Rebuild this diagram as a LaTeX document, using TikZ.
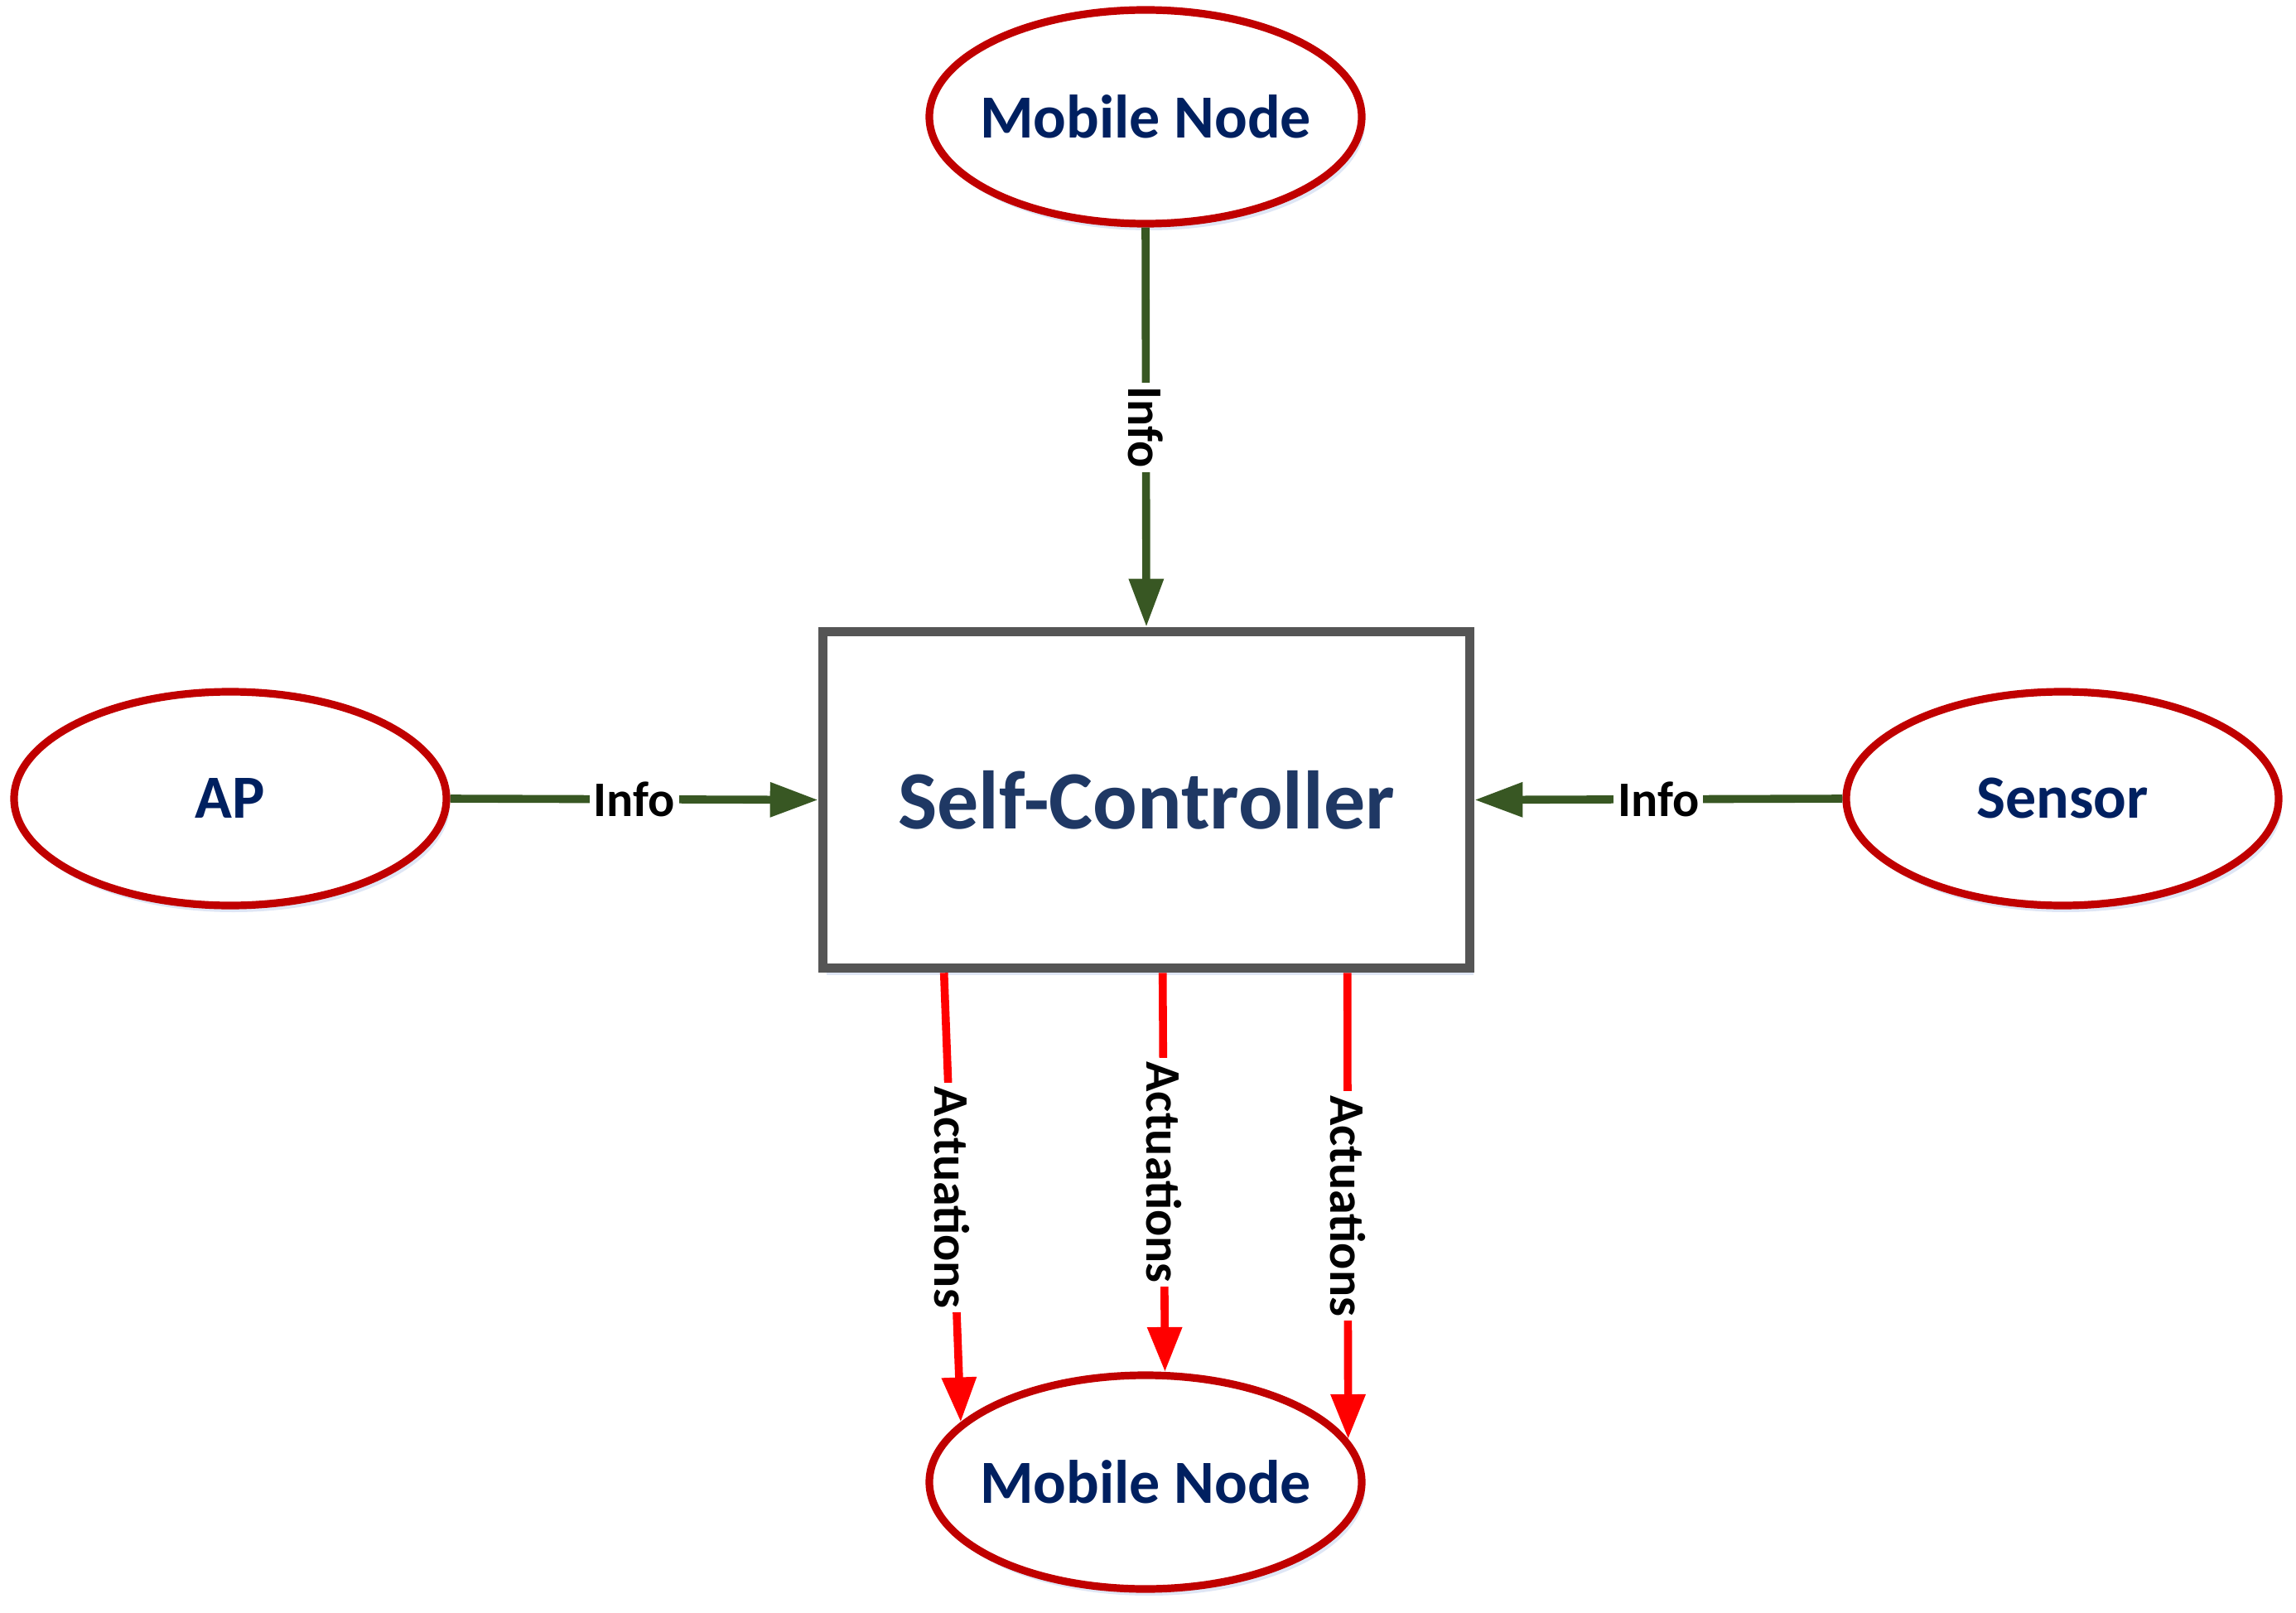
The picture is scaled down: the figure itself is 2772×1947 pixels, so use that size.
\documentclass[tikz,border=0pt]{standalone}
\usepackage{fontspec}
\setmainfont{Carlito}
\usetikzlibrary{arrows.meta,shadows,calc,shapes.geometric}
\definecolor{ellred}{HTML}{C00000}
\definecolor{navy}{HTML}{002060}
\definecolor{scnavy}{HTML}{1F3864}
\definecolor{boxgray}{HTML}{555555}
\definecolor{infogreen}{HTML}{385723}
\definecolor{actred}{HTML}{FF0000}
\definecolor{shadowblue}{HTML}{C9D6EE}
\begin{document}
\begin{tikzpicture}[x=0.25pt,y=-0.25pt,
  etext/.style={text=navy, font=\fontsize{18.5}{22}\selectfont\bfseries},
  ellip/.style={ellipse, draw=ellred, line width=2.3pt, fill=white,
    minimum width=130.5pt, minimum height=64.5pt, inner sep=0pt,
    drop shadow={shadow xshift=1pt, shadow yshift=-2pt, fill=shadowblue, opacity=0.6}},
  scbox/.style={rectangle, draw=boxgray, line width=2.9pt, fill=white,
    minimum width=195.25pt, minimum height=101.5pt, inner sep=0pt,
    text=scnavy, font=\fontsize{25}{28}\selectfont\bfseries,
    drop shadow={shadow xshift=1pt, shadow yshift=-2pt, fill=shadowblue, opacity=0.6}},
  infoarrow/.style={draw=infogreen, line width=2.4pt, -{Triangle[length=14.5pt,width=10pt]}},
  actarrow/.style={draw=actred, line width=2.4pt, -{Triangle[length=13.5pt,width=10pt]}},
  lab/.style={fill=white, inner sep=1.2pt, text=black, font=\fontsize{15}{17}\selectfont\bfseries}
]
\useasboundingbox (0,0) rectangle (2772,1947);
\node[ellip, label={[etext]center:Mobile Node}] (mt) at (1383,141) {};
\node[ellip, label={[etext]center:AP}] (ap) at (278,964) {};
\node[ellip, label={[etext]center:Sensor}] (se) at (2490,964) {};
\node[ellip, label={[etext]center:Mobile Node}] (mb) at (1383,1789) {};
\node[scbox] (sc) at (1384,965.5) {Self-Controller};

\draw[infoarrow] (mt.south) -- (sc.north) node[midway, lab, rotate=-90] {Info};
\draw[infoarrow] (ap.east) -- (sc.west) node[midway, lab] {Info};
\draw[infoarrow] (se.west) -- (sc.east) node[midway, lab] {Info};

\coordinate (a1) at ($(sc.south west)+(152,0)$);
\coordinate (a2) at ($(sc.south west)+(416,0)$);
\coordinate (a3) at ($(sc.south west)+(639,0)$);
\draw[actarrow] (a1) -- (mb.162) node[midway, lab, rotate=-90] {Actuations};
\draw[actarrow] (a2) -- (mb.80) node[midway, lab, rotate=-90] {Actuations};
\draw[actarrow] (a3) -- (mb.12) node[midway, lab, rotate=-90] {Actuations};
\end{tikzpicture}
\end{document}
